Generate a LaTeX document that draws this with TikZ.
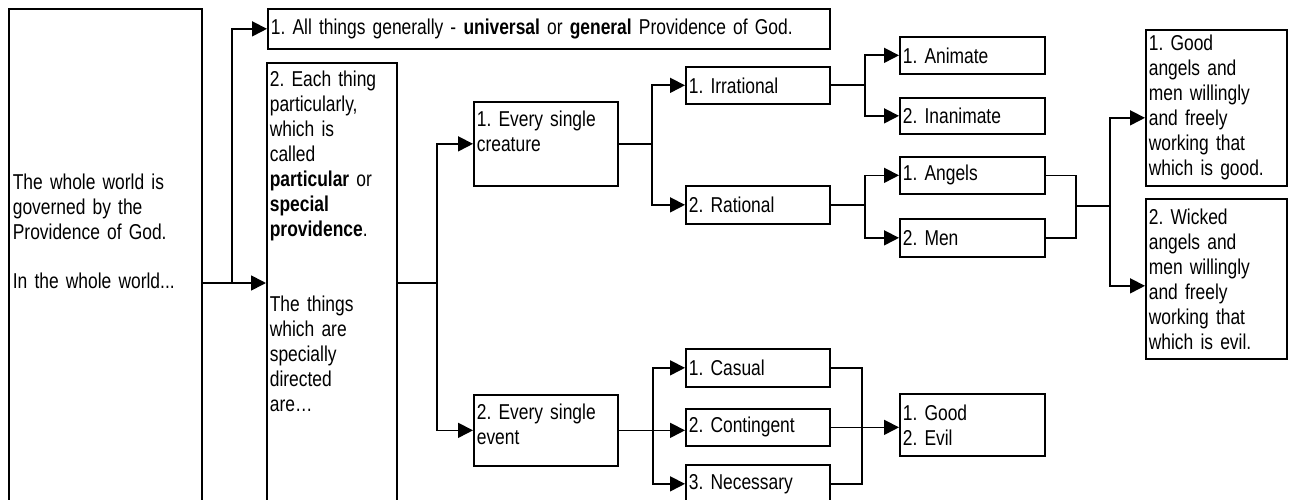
\documentclass[tikz,border=0pt]{standalone}
\usepackage{fontspec}
\setmainfont[FakeStretch=0.81]{Liberation Sans}
\usetikzlibrary{arrows.meta}
\frenchspacing
\newcommand{\diagfont}{\fontsize{21.5}{25}\selectfont\spaceskip=4.2pt plus 1pt\relax}

\begin{document}
\begin{tikzpicture}[x=1pt, y=-1pt, font=\diagfont, line width=1.7pt]
  \clip (0,0) rectangle (1290,500);

  % Styles.
  \tikzstyle{box}=[draw, anchor=north west, align=left, inner xsep=3pt, inner ysep=0pt]
  \tikzstyle{txt}=[anchor=base west, align=left, inner sep=0pt]
  \tikzstyle{arr}=[-{Triangle[length=15pt, width=15pt]}]

  % Boxes.
  \node[box, minimum width=193pt, minimum height=497pt] (world) at (8,8) {};
  \node[box, text width=556pt, minimum height=40pt] (general) at (267,8) {1. All things generally - \textbf{universal} or \textbf{general} Providence of God.};
  \node[box, minimum width=130pt, minimum height=443pt] (particular) at (266,62) {};
  \node[box, minimum width=144pt, minimum height=84pt] (creature) at (473,101) {};
  \node[box, minimum width=144pt, minimum height=71pt] (event) at (473,394) {};

  \node[box, text width=138pt, minimum height=37pt] (irrational) at (685,66) {1. Irrational};
  \node[box, text width=138pt, minimum height=38pt] (rational) at (685,185) {2. Rational};
  \node[box, text width=138pt, minimum height=38pt] (casual) at (685,348) {1. Casual};
  \node[box, text width=138pt, minimum height=37pt] (contingent) at (685,408) {2. Contingent};
  \node[box, text width=138pt, minimum height=38pt] (necessary) at (685,464) {3. Necessary};

  \node[box, text width=139pt, minimum height=37pt] (animate) at (899,36) {1. Animate};
  \node[box, text width=139pt, minimum height=36pt] (inanimate) at (899,97) {2. Inanimate};
  \node[box, text width=139pt, minimum height=37pt] (angels) at (899,156) {1. Angels};
  \node[box, text width=139pt, minimum height=38pt] (men) at (899,218) {2. Men};
  \node[box, text width=139pt, minimum height=62pt] (goodevil) at (899,393) {1. Good\\2. Evil};

  \node[box, text width=135pt, minimum height=156pt] (goodwill) at (1145,29) {1. Good\\angels and\\men willingly\\and freely\\working that\\which is good.};
  \node[box, text width=135pt, minimum height=160pt] (evilwill) at (1145,198) {2. Wicked\\angels and\\men willingly\\and freely\\working that\\which is evil.};

  % Texte.
  \node[txt, text width=185pt] (worldtext) at (12,189) {The whole world is\\governed by the\\Providence of God.\\[25pt]In the whole world...};
  \node[txt, text width=125pt] (particulartext) at (269,87) {2. Each thing\\particularly,\\which is\\called\\\textbf{particular} or\\\textbf{special}\\\textbf{providence}.\\[50pt]The things\\which are\\specially\\directed\\are…};
  \node[txt, text width=138pt] (creaturetext) at (476,127) {1. Every single\\creature};
  \node[txt, text width=138pt] (eventtext) at (476,419) {2. Every single\\event};

  % Verbindungen.
  \coordinate (s1) at (232,283);
  \coordinate (s2) at (437,283);
  \draw[arr] (world.east |- s1) -- (particular.west |- s1);
  \draw[arr] (s1) |- (general.west);
  \draw (particular.east |- s2) -- (s2);
  \draw[arr] (s2) |- (creature.west);
  \draw[arr] (s2) |- (event.west);

  \draw (creature.east) -- ++(33,0) coordinate (f1);
  \draw[arr] (f1) |- (irrational.west);
  \draw[arr] (f1) |- (rational.west);
  \draw (event.east) -- ++(34,0) coordinate (f2);
  \draw[arr] (f2) |- (casual.west);
  \draw[arr] (f2) -- (contingent.west |- f2);
  \draw[arr] (f2) |- (necessary.west);

  \draw (irrational.east) -- ++(34,0) coordinate (f3);
  \draw[arr] (f3) |- (animate.west);
  \draw[arr] (f3) |- (inanimate.west);
  \draw (rational.east) -- ++(34,0) coordinate (f4);
  \draw[arr] (f4) |- (angels.west);
  \draw[arr] (f4) |- (men.west);

  \coordinate (m1) at (1076,206);
  \draw (angels.east) -| (m1) |- (men.east);
  \draw (m1) -- ++(34,0) coordinate (f5);
  \draw[arr] (f5) |- ([yshift=-10pt]goodwill.west);
  \draw[arr] (f5) |- ([yshift=-7pt]evilwill.west);

  \coordinate (m2) at (862,428);
  \draw (casual.east) -| (m2) |- (necessary.east);
  \draw[arr] (contingent.east) -- (goodevil.west |- contingent.east);
\end{tikzpicture}
\end{document}
